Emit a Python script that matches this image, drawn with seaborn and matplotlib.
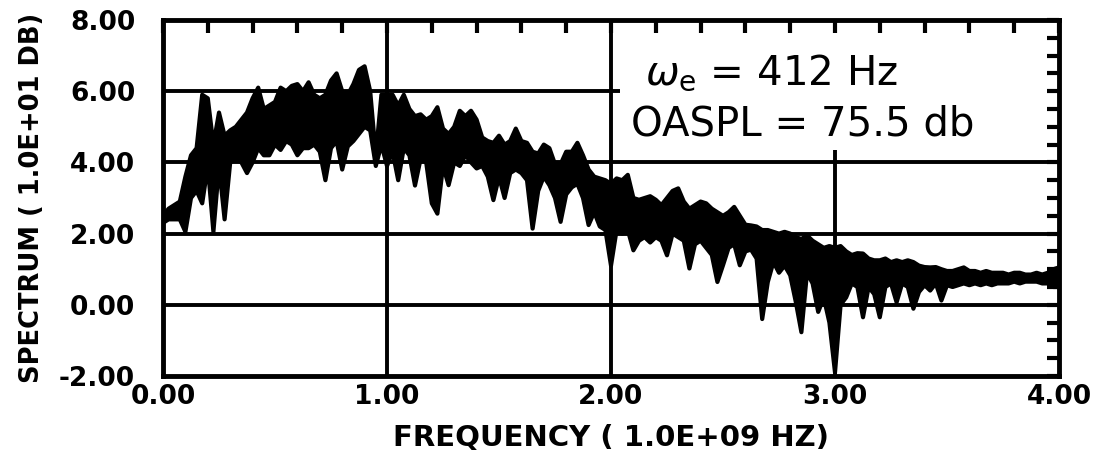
import numpy as np
import pandas as pd
import matplotlib
matplotlib.use("Agg")
import matplotlib.pyplot as plt
from matplotlib.patches import Rectangle
from matplotlib.ticker import MultipleLocator, FormatStrFormatter
import seaborn as sns

# spectrum: upper and lower edge of the trace, every 0.025 (1.0E+09 Hz)
freq = np.round(np.arange(161) * 0.025, 3)
upper = [2.5, 2.7, 2.8, 2.9, 3.6, 4.2, 4.4, 5.9, 5.8, 4.5,
         5.4, 4.75, 4.9, 5.0, 5.2, 5.4, 5.8, 6.1, 5.5, 5.6,
         5.7, 6.1, 6.0, 6.15, 6.2, 6.0, 6.25, 5.9, 5.8, 5.9,
         6.3, 6.5, 6.0, 5.9, 6.2, 6.6, 6.7, 6.0, 4.2, 5.9,
         5.9, 5.9, 5.6, 5.9, 5.5, 5.3, 5.35, 5.2, 5.3, 5.55,
         4.95, 4.8, 5.0, 5.45, 5.3, 5.45, 5.2, 4.7, 4.6, 4.55,
         4.75, 4.5, 4.6, 4.95, 4.6, 4.55, 4.3, 4.25, 4.5, 4.4,
         3.95, 3.95, 4.3, 4.3, 4.55, 4.2, 3.8, 3.6, 3.55, 3.5,
         3.4, 3.55, 3.5, 3.65, 3.0, 2.95, 3.0, 3.05, 2.95, 2.8,
         3.0, 3.2, 3.27, 2.9, 2.7, 2.8, 2.9, 2.85, 2.7, 2.6,
         2.5, 2.6, 2.75, 2.5, 2.25, 2.23, 2.2, 2.1, 2.1, 2.05,
         2.0, 2.05, 2.0, 1.9, 1.85, 1.95, 1.8, 1.7, 1.6, 1.65,
         1.6, 1.65, 1.5, 1.4, 1.45, 1.44, 1.3, 1.25, 1.25, 1.3,
         1.2, 1.25, 1.2, 1.25, 1.2, 1.1, 1.06, 1.05, 1.06, 1.0,
         0.95, 0.95, 1.0, 1.05, 0.95, 0.95, 0.9, 0.95, 0.9, 0.9,
         0.9, 0.85, 0.9, 0.9, 0.85, 0.85, 0.9, 0.85, 0.9, 1.0,
         1.05]
lower = [2.3, 2.4, 2.4, 2.4, 2.05, 3.0, 3.2, 2.85, 3.9, 2.05,
         3.9, 2.4, 4.0, 4.1, 4.0, 3.7, 4.0, 4.4, 4.2, 4.2,
         4.5, 4.35, 4.6, 4.5, 4.2, 4.4, 4.4, 4.5, 4.3, 3.5,
         4.4, 4.6, 3.8, 4.45, 4.6, 4.8, 5.0, 4.9, 3.9, 4.5,
         3.9, 4.3, 3.5, 4.4, 4.2, 3.35, 4.1, 4.0, 2.85, 2.56,
         3.9, 3.36, 4.0, 3.9, 4.2, 4.0, 3.83, 3.9, 3.6, 2.94,
         3.6, 3.0, 3.7, 3.8, 3.7, 3.5, 2.14, 3.2, 3.6, 3.36,
         3.0, 2.33, 3.1, 3.3, 3.4, 3.0, 2.24, 2.6, 2.2, 2.1,
         1.1, 2.1, 2.0, 2.1, 1.53, 1.8, 1.9, 1.75, 1.9, 1.8,
         1.39, 2.0, 1.9, 1.8, 1.02, 1.7, 1.8, 1.6, 1.4, 0.64,
         1.11, 1.6, 1.7, 1.11, 1.5, 1.55, 1.3, -0.4, 0.64, 1.2,
         0.9, 1.1, 0.83, 0.08, -0.77, 0.9, 0.6, -0.2, 0.2, -0.5,
         -1.9, 0.0, 0.21, 0.6, 0.5, -0.35, 0.5, 0.3, -0.35, 0.5,
         0.6, 0.07, 0.6, 0.5, -0.11, 0.36, 0.55, 0.4, 0.6, 0.12,
         0.55, 0.5, 0.55, 0.6, 0.55, 0.6, 0.55, 0.6, 0.55, 0.6,
         0.6, 0.6, 0.65, 0.6, 0.65, 0.65, 0.65, 0.6, 0.6, 0.5,
         0.5]

x_ticks = [0, 1, 2, 3, 4]
y_ticks = [-2, 0, 2, 4, 6, 8]
note_1 = r"$\omega_{\rm e}$ = 412 Hz"
note_2 = "OASPL = 75.5 db"

df = pd.DataFrame({"freq": freq, "upper": upper, "lower": lower})

sns.set_theme(style="white")
plt.rcParams["font.family"] = ["DejaVu Sans"]

fig = plt.figure(figsize=(10.97, 4.65), dpi=100)
ax = fig.add_axes([163 / 1097, 1 - 376 / 465, 896 / 1097, 356 / 465])
ax.set_axisbelow(False)

# grid drawn by hand so the label box can hide part of it
for v in [1, 2, 3]:
    ax.axvline(v, color="black", lw=2.8, zorder=1)
for v in [0, 2, 4, 6]:
    ax.axhline(v, color="black", lw=2.8, zorder=1)
ax.add_patch(Rectangle((2.04, 4.35), 1.96, 3.65, fc="white", ec="none", zorder=2))

ax.fill_between(df["freq"], df["lower"], df["upper"], color="black", lw=0, zorder=3)
for col in ["upper", "lower"]:
    sns.lineplot(data=df, x="freq", y=col, color="black", lw=3.0, ax=ax,
                 zorder=3, solid_joinstyle="round", solid_capstyle="round")

ax.set_xlim(0, 4)
ax.set_ylim(-2, 8)
ax.set_xticks(x_ticks)
ax.set_yticks(y_ticks)
ax.xaxis.set_minor_locator(MultipleLocator(0.2))
ax.yaxis.set_minor_locator(MultipleLocator(0.5))
ax.xaxis.set_major_formatter(FormatStrFormatter("%.2f"))
ax.yaxis.set_major_formatter(FormatStrFormatter("%.2f"))
ax.tick_params(which="both", direction="in", top=True, right=True,
               length=9, width=3, color="black")
ax.tick_params(axis="x", which="major", pad=6)
ax.tick_params(axis="y", which="major", pad=20)
for lab in ax.get_xticklabels() + ax.get_yticklabels():
    lab.set_fontsize(19)
    lab.set_fontweight("bold")
    lab.set_color("black")
for sp in ax.spines.values():
    sp.set_linewidth(3.5)
    sp.set_color("black")

ax.set_xlabel("FREQUENCY ( 1.0E+09 HZ)", fontsize=21, fontweight="bold",
              color="black", labelpad=10)
ax.set_ylabel("SPECTRUM ( 1.0E+01 DB)", fontsize=18.5, fontweight="bold",
              color="black", labelpad=10)

ax.text(2.15, 6.2, note_1, fontsize=29, color="black", va="baseline", zorder=4)
ax.text(2.09, 4.76, note_2, fontsize=29, color="black", va="baseline", zorder=4)

fig.savefig("out.png", dpi=100, facecolor="white")
